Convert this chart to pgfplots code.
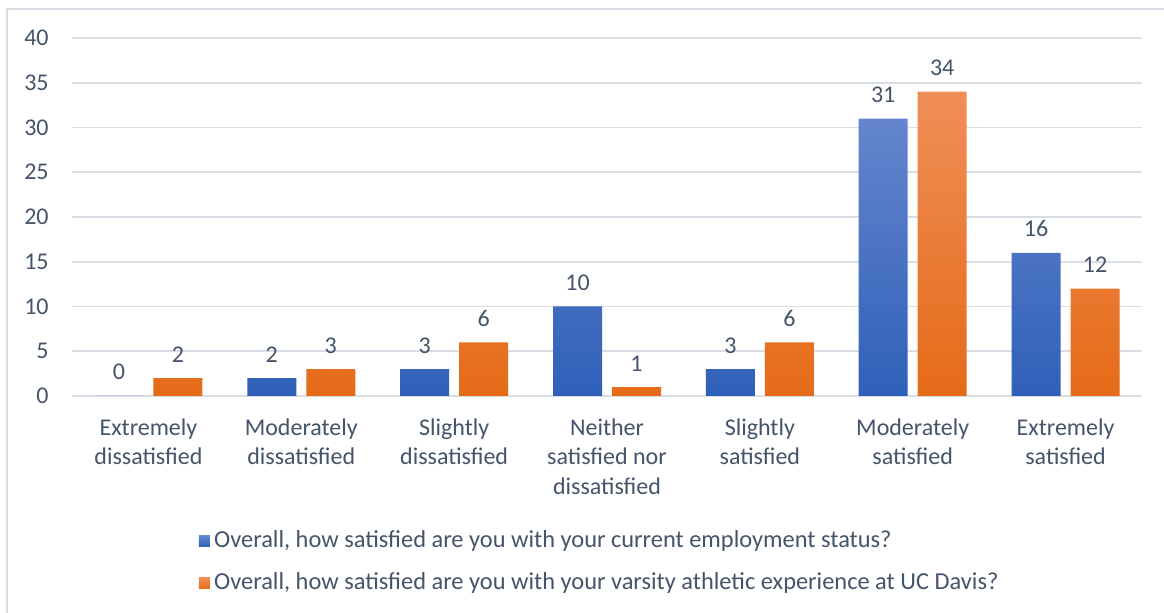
\documentclass[border=0pt]{standalone}
\usepackage{pgfplots}
\pgfplotsset{compat=1.18}
\usepackage{fontspec}
\setmainfont{Carlito}
\definecolor{txt}{HTML}{44546A}
\definecolor{gridc}{HTML}{D9DEE6}
\definecolor{btop}{HTML}{6585CE}
\definecolor{bbot}{HTML}{2F60B9}
\definecolor{bmid}{HTML}{4472C4}
\definecolor{otop}{HTML}{F08E58}
\definecolor{obot}{HTML}{E56B18}
\definecolor{omid}{HTML}{ED7D31}
\begin{document}
\begin{tikzpicture}
\useasboundingbox (0,0) rectangle (582pt,306.5pt);
\fill[white] (0,0) rectangle (582pt,306.5pt);
\draw[gridc, line width=1pt] (3.5pt,0) -- (3.5pt,302pt) -- (582pt,302pt);
\begin{axis}[
  at={(36pt,108.5pt)}, anchor=south west,
  scale only axis, width=535pt, height=179pt,
  xmin=-0.5, xmax=6.5, ymin=0, ymax=40,
  ytick={0,5,...,40},
  xtick={0,...,6},
  xticklabels={{Extremely\\dissatisfied},{Moderately\\dissatisfied},{Slightly\\dissatisfied},{Neither\\satisfied nor\\dissatisfied},{Slightly\\satisfied},{Moderately\\satisfied},{Extremely\\satisfied}},
  ymajorgrids, grid style={gridc, line width=0.9pt},
  axis line style={draw=none},
  major tick length=0pt, tick style={draw=none},
  clip=false,
  /pgf/number format/assume math mode=true,
  ybar=5pt, bar width=24.5pt,
  ticklabel style={font=\fontsize{12}{14.75}\selectfont, text=txt},
  yticklabel style={anchor=east, inner sep=0pt, xshift=-11.5pt},
  xticklabel style={align=center, anchor=north, inner sep=0pt, yshift=-11pt},
  nodes near coords,
  every node near coord/.append style={font=\fontsize{12}{14}\selectfont, text=txt, anchor=base, inner sep=0pt, yshift=8pt},
  legend style={draw=none, fill=none, at={(axis description cs:0.1125,-0.36)}, anchor=north west,
    font=\fontsize{12.2}{14}\selectfont, text=txt, row sep=9pt,
    nodes={inner sep=0pt, text height=9pt, text depth=3pt},
    /tikz/every odd column/.append style={column sep=2.2pt}},
  legend cell align=left,
]
\addplot[draw=none, top color=btop, bottom color=bbot,
  legend image code/.code={\fill[bmid] (0pt,-2.75pt) rectangle (5.5pt,2.75pt);}]
  coordinates {(0,0) (1,2) (2,3) (3,10) (4,3) (5,31) (6,16)};
\addplot[draw=none, top color=otop, bottom color=obot,
  legend image code/.code={\fill[omid] (0pt,-2.75pt) rectangle (5.5pt,2.75pt);}]
  coordinates {(0,2) (1,3) (2,6) (3,1) (4,6) (5,34) (6,12)};
\legend{{Overall, how satisfied are you with your current employment status?},
        {Overall, how satisfied are you with your varsity athletic experience at UC Davis?}}
\end{axis}
\end{tikzpicture}
\end{document}
